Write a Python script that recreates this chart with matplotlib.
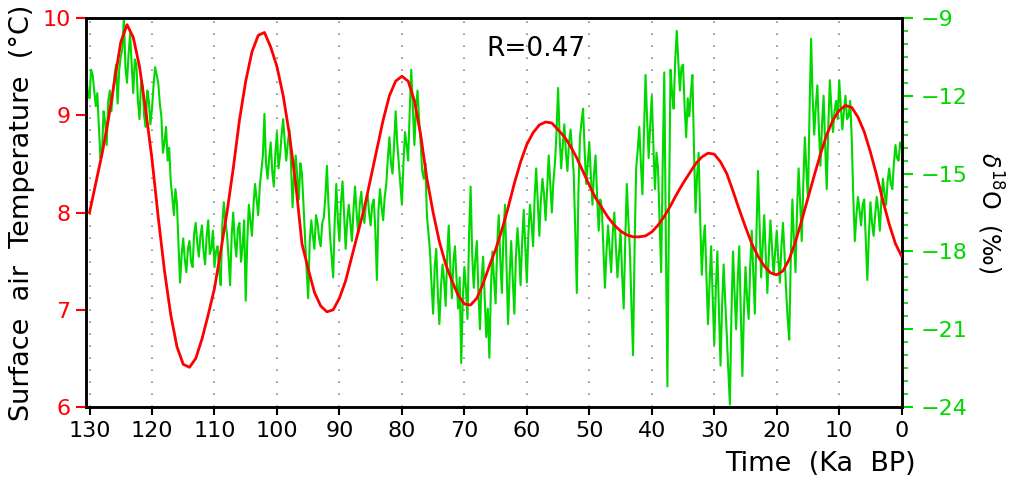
import numpy as np
import matplotlib
matplotlib.use("Agg")
import matplotlib.pyplot as plt
from matplotlib.ticker import MultipleLocator

# red curve: simulated surface air temperature (degC), one value per ka, 130 -> 0 ka BP
temp_age = np.arange(130, -1, -1)
temp = [8.00, 8.30, 8.60, 8.95, 9.35, 9.75, 9.93, 9.80, 9.50, 9.05,
        8.55, 7.95, 7.40, 6.95, 6.62, 6.44, 6.41, 6.50, 6.70, 6.95,
        7.22, 7.60, 8.00, 8.45, 8.95, 9.35, 9.65, 9.82, 9.85, 9.70,
        9.50, 9.20, 8.80, 8.30, 7.68, 7.42, 7.18, 7.04, 6.98, 7.00,
        7.12, 7.30, 7.55, 7.80, 8.05, 8.35, 8.65, 8.95, 9.20, 9.35,
        9.40, 9.35, 9.15, 8.80, 8.35, 8.00, 7.70, 7.47, 7.30, 7.15,
        7.06, 7.05, 7.12, 7.27, 7.45, 7.62, 7.82, 8.05, 8.30, 8.52,
        8.70, 8.82, 8.90, 8.93, 8.92, 8.85, 8.78, 8.68, 8.56, 8.42,
        8.28, 8.15, 8.05, 7.95, 7.87, 7.81, 7.77, 7.75, 7.75, 7.76,
        7.80, 7.87, 7.96, 8.07, 8.19, 8.30, 8.40, 8.50, 8.57, 8.61,
        8.60, 8.52, 8.40, 8.22, 8.03, 7.85, 7.68, 7.55, 7.45, 7.38,
        7.36, 7.40, 7.52, 7.70, 7.92, 8.15, 8.38, 8.60, 8.80, 8.95,
        9.05, 9.10, 9.08, 8.98, 8.83, 8.62, 8.38, 8.12, 7.88, 7.68,
        7.55]

# green curve: d18O record (permil), every 0.25 ka, 130.5 -> 0 ka BP
d18o_age = np.arange(130.5, -0.1, -0.25)
d18o = [
    -11.3, -11.9, -12.1, -11.0, -11.2, -11.8, -12.4, -11.9, -13.2, -14.4,
    -14.2, -12.6, -13.0, -13.9, -12.2, -11.8, -12.6, -11.9, -11.2, -10.8,
    -12.3, -11.0, -10.5, -10.2, -9.0, -10.9, -11.5, -10.4, -9.6, -10.8,
    -11.9, -10.6, -10.8, -12.2, -12.9, -11.5, -11.6, -12.8, -13.2, -11.8,
    -12.2, -13.1, -12.5, -11.6, -10.9, -11.2, -11.5, -12.3, -12.8, -14.2,
    -13.8, -13.2, -14.5, -14.0, -15.3, -15.9, -16.6, -15.6, -16.2, -17.8,
    -19.2, -18.1, -17.5, -18.3, -18.8, -17.9, -17.6, -18.4, -18.6, -17.3,
    -16.9, -17.7, -18.2, -17.4, -17.0, -18.0, -18.5, -17.4, -16.8, -18.1,
    -17.9, -17.2, -18.6, -18.0, -17.8, -18.7, -19.3, -17.0, -16.1, -16.9,
    -17.3, -18.2, -19.3, -17.4, -16.5, -17.6, -18.2, -17.1, -16.9, -18.4,
    -17.8, -16.8, -19.9, -17.6, -16.2, -16.8, -17.4, -16.2, -15.4, -16.0,
    -16.6, -15.5, -14.9, -14.3, -12.7, -14.6, -15.2, -14.4, -13.8, -14.9,
    -15.5, -14.2, -13.4, -14.8, -14.3, -13.5, -12.9, -13.8, -14.5, -13.8,
    -13.3, -14.6, -16.3, -15.0, -14.3, -15.1, -16.0, -14.6, -15.0, -16.2,
    -17.5, -18.7, -19.8, -17.6, -16.8, -17.4, -17.9, -16.6, -16.9, -17.5,
    -17.8, -16.9, -16.7, -15.9, -14.7, -16.2, -17.4, -18.2, -19.0, -16.8,
    -15.4, -16.8, -17.6, -16.1, -15.3, -16.6, -17.9, -16.8, -16.2, -16.9,
    -17.6, -16.4, -15.5, -16.5, -17.3, -16.2, -15.7, -16.5, -16.9, -16.1,
    -15.8, -16.5, -17.0, -16.2, -16.0, -17.2, -19.1, -16.4, -15.6, -16.3,
    -16.8, -15.9, -15.4, -14.4, -13.6, -14.6, -15.0, -13.9, -12.6, -13.8,
    -14.6, -15.4, -16.2, -14.6, -13.4, -13.9, -14.5, -12.6, -11.0, -12.4,
    -13.9, -12.5, -11.8, -12.9, -13.8, -14.9, -15.2, -14.6, -16.6, -17.3,
    -18.0, -19.3, -20.4, -18.6, -17.9, -19.6, -20.8, -19.4, -18.5, -19.1,
    -20.1, -18.2, -17.0, -18.6, -19.8, -18.4, -17.8, -19.1, -20.2, -19.0,
    -22.3, -19.8, -18.6, -19.4, -20.6, -17.4, -15.5, -18.1, -19.4, -18.3,
    -17.6, -19.6, -21.0, -19.1, -18.2, -19.8, -21.3, -20.2, -22.1, -19.4,
    -18.0, -19.1, -20.0, -17.8, -16.6, -18.3, -19.6, -17.4, -16.2, -18.6,
    -20.8, -18.9, -17.6, -19.1, -20.4, -18.2, -17.1, -18.0, -19.3, -17.6,
    -16.4, -17.8, -19.2, -17.3, -16.2, -16.9, -17.8, -15.9, -14.8, -16.1,
    -17.4, -16.0, -15.2, -15.8, -16.8, -15.6, -14.3, -15.4, -16.5, -15.3,
    -14.6, -13.4, -11.7, -13.6, -14.8, -13.9, -13.1, -14.2, -14.9, -13.8,
    -13.3, -14.1, -15.0, -17.2, -19.6, -15.8, -13.6, -13.0, -12.5, -14.1,
    -15.4, -14.6, -13.8, -15.1, -16.2, -15.0, -14.3, -15.9, -17.2, -16.0,
    -16.3, -17.8, -19.4, -18.0, -17.0, -17.9, -18.8, -17.3, -16.5, -17.8,
    -19.0, -18.1, -17.2, -18.9, -20.2, -17.6, -15.4, -16.8, -18.0, -20.1,
    -22.0, -17.8, -14.8, -14.1, -13.2, -14.6, -15.8, -13.4, -11.2, -12.9,
    -14.4, -13.1, -12.0, -13.9, -15.6, -14.2, -14.8, -16.9, -18.8, -14.6,
    -11.1, -17.5, -23.2, -16.4, -11.0, -11.9, -12.5, -10.6, -9.5, -10.7,
    -11.8, -10.9, -10.8, -12.4, -13.6, -12.1, -12.8, -11.9, -11.2, -14.0,
    -16.5, -15.1, -14.2, -16.8, -18.9, -17.6, -17.0, -19.0, -20.8, -19.2,
    -17.8, -19.8, -21.6, -19.4, -18.0, -20.3, -22.4, -20.1, -18.5, -19.9,
    -21.2, -22.6, -23.9, -20.4, -18.0, -19.6, -21.0, -19.1, -17.8, -20.4,
    -22.8, -20.3, -18.6, -19.8, -20.6, -18.6, -17.2, -18.9, -20.4, -17.3,
    -14.9, -17.0, -19.0, -17.8, -16.6, -18.2, -19.6, -18.0, -16.8, -17.9,
    -18.9, -18.0, -17.2, -18.3, -19.2, -17.8, -16.9, -18.1, -19.5, -20.6,
    -21.4, -18.2, -16.0, -17.5, -18.8, -16.4, -14.8, -16.1, -17.6, -15.4,
    -13.6, -14.9, -16.0, -12.6, -9.8, -12.1, -13.5, -12.4, -11.6, -13.3,
    -14.7, -13.1, -12.0, -13.9, -15.6, -13.2, -11.4, -12.5, -13.4, -12.6,
    -12.2, -12.9, -11.4, -12.4, -13.3, -12.6, -12.0, -12.9, -12.8, -12.2,
    -13.6, -15.9, -17.6, -16.6, -15.9, -16.4, -17.0, -16.2, -16.0, -17.6,
    -19.1, -17.4, -16.1, -16.9, -17.4, -16.6, -15.9, -16.4, -17.2, -16.0,
    -15.2, -15.8, -16.2, -15.3, -14.8, -15.4, -15.6, -14.6, -13.9, -14.4,
    -14.5, -13.8, -14.0]

xticks = list(range(0, 131, 10))
temp_ticks = [6, 7, 8, 9, 10]
d18o_ticks = [-24, -21, -18, -15, -12, -9]

red = "#ff0000"
green = "#00d800"

plt.rcParams["font.family"] = "DejaVu Sans"

fig = plt.figure(figsize=(10.12, 4.83), dpi=100)
ax1 = fig.add_axes([0.085, 0.157, 0.806, 0.806])
ax2 = ax1.twinx()
ax1.set_zorder(ax2.get_zorder() + 1)
ax1.patch.set_visible(False)

for g in range(10, 131, 10):
    ax2.axvline(g, color="#888888", lw=1.2, dashes=(1, 6.2), zorder=0)

ax2.plot(d18o_age, d18o, color=green, lw=1.5, zorder=2)
ax1.plot(temp_age, temp, color=red, lw=2.0, zorder=3)

ax1.set_xlim(130.56, 0)
ax1.set_ylim(6, 10)
ax2.set_ylim(-24, -9)

ax1.set_xticks(xticks)
ax1.set_yticks(temp_ticks)
ax2.set_yticks(d18o_ticks)
ax2.yaxis.set_minor_locator(MultipleLocator(0.5))

ax1.tick_params(axis="x", labelsize=16, length=6, width=1.5, pad=4)
ax1.tick_params(axis="y", colors=red, labelsize=16, length=7, width=1.5, pad=4)
ax2.tick_params(axis="y", which="major", colors=green, labelsize=16,
                length=8, width=1.5, pad=6)
ax2.tick_params(axis="y", which="minor", colors=green, length=4, width=1.2)

for ax in (ax1, ax2):
    for sp in ax.spines.values():
        sp.set_linewidth(1.8)
        sp.set_color("black")

ax1.set_ylabel("Surface  air  Temperature  (°C)", fontsize=19.5, labelpad=5)
ax2.set_ylabel(r"$\delta^{18}$O  (‰)", fontsize=17, rotation=270,
               labelpad=27)
fig.text(0.905, 0.04, "Time  (Ka  BP)", fontsize=19.5, ha="right", va="center")
ax1.text(0.551, 0.92, "R=0.47", fontsize=19, ha="center", va="center",
         transform=ax1.transAxes)

fig.savefig("out.png", dpi=100)
